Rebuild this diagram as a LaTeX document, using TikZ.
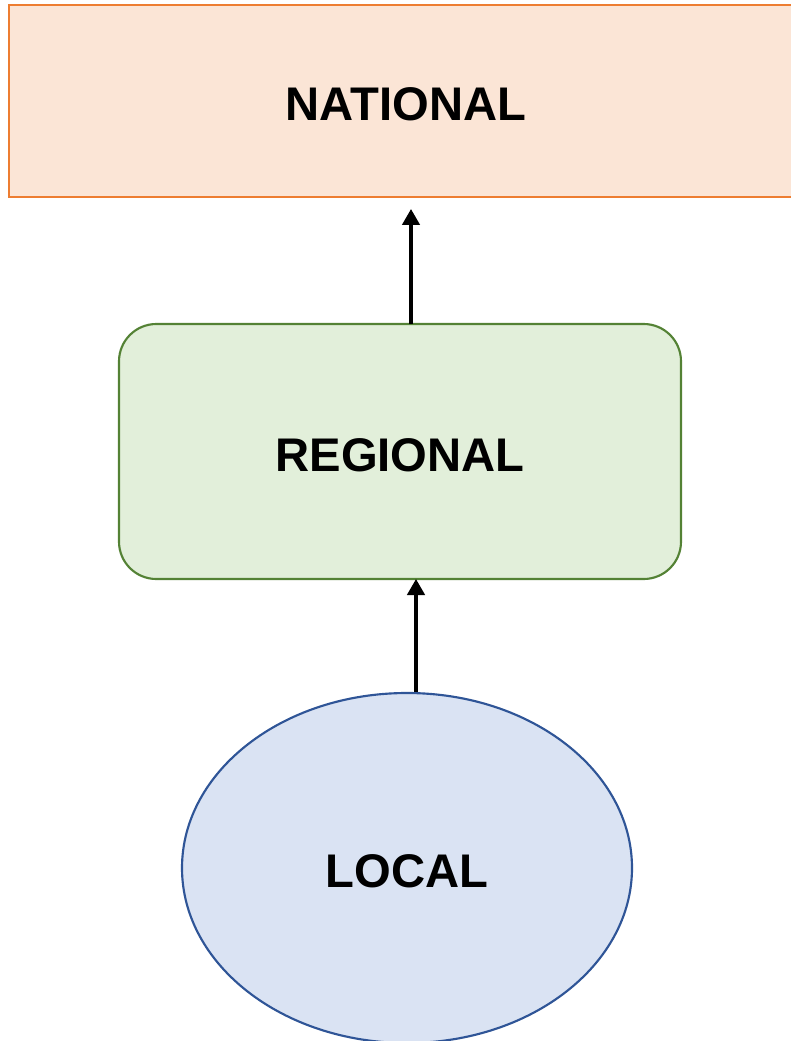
\documentclass[tikz,border=0pt]{standalone}
\usepackage{fontspec}
\setmainfont{Liberation Sans}
\usetikzlibrary{shapes.geometric,arrows.meta}
\definecolor{natfill}{HTML}{FBE5D6}
\definecolor{natdraw}{HTML}{ED7D31}
\definecolor{regfill}{HTML}{E2EFDA}
\definecolor{regdraw}{HTML}{548235}
\definecolor{locfill}{HTML}{DAE3F3}
\definecolor{locdraw}{HTML}{2F5597}
\tikzset{
  lbl/.style={font=\fontsize{35.4}{41}\selectfont\bfseries},
  conn/.style={line width=2.6pt,-{Triangle[length=12pt,width=13pt]}}
}
\begin{document}
\begin{tikzpicture}[x=0.75pt,y=-0.75pt]
\useasboundingbox (0,0) rectangle (791,1041);
\draw[natdraw,fill=natfill,line width=1.6pt] (9,5) rectangle (800,197);
\node[lbl] (nat) at (406,104) {NATIONAL};
\draw[regdraw,fill=regfill,line width=1.6pt,rounded corners=28pt] (119,324) rectangle (681,579);
\node[lbl] (reg) at (400,455) {REGIONAL};
\node[ellipse,draw=locdraw,fill=locfill,line width=1.6pt,minimum width=450*0.75pt,minimum height=350*0.75pt,inner sep=0pt] (loc) at (407,868) {};
\node[lbl] (loct) at (407,871) {LOCAL};
\coordinate (regt) at (411,324);
\coordinate (regb) at (416,579);
\coordinate (nattip) at (411,209);
\draw[conn] (regt) -- (nattip);
\draw[conn] (loc.north -| regb) -- (regb);
\end{tikzpicture}
\end{document}
